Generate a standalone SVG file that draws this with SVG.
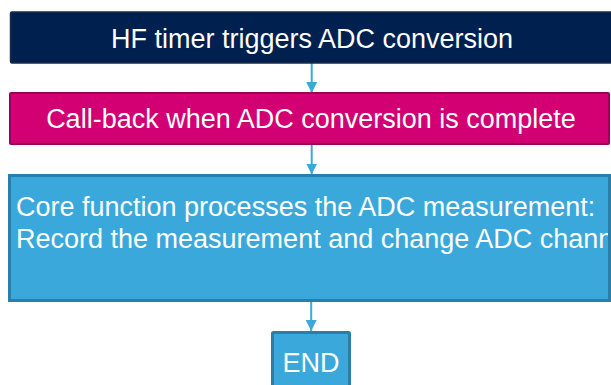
<svg xmlns="http://www.w3.org/2000/svg" width="611" height="385" viewBox="0 0 611 385">
  <defs>
    <marker id="arrow" markerUnits="userSpaceOnUse" markerWidth="12" markerHeight="12" refX="11" refY="6" orient="auto">
      <path d="M0,0.5 L11,6 L0,11.5 Z" fill="#3aa8db"/>
    </marker>
    <!-- keeps the long second line inside the box border -->
    <clipPath id="core-clip">
      <rect x="11" y="177" width="597" height="122"/>
    </clipPath>
  </defs>
  <style>
    .lbl { font-family: "Liberation Sans", Arial, sans-serif; font-size: 27px; fill: #ffffff; }
    .mid { text-anchor: middle; }
    .navy { fill: #00204f; stroke: #1b2b48; stroke-width: 1.5; }
    .pink { fill: #d20073; stroke: #9b0058; stroke-width: 2; }
    .blue { fill: #3aa8db; stroke: #2b7ea8; stroke-width: 3; }
    .conn { stroke: #3aa8db; stroke-width: 2; fill: none; marker-end: url(#arrow); }
  </style>

  <g id="connectors">
    <line class="conn" x1="311.7" y1="63" x2="311.7" y2="93"/>
    <line class="conn" x1="311.7" y1="145" x2="311.7" y2="174.5"/>
    <line class="conn" x1="311.2" y1="302" x2="311.2" y2="331"/>
  </g>

  <g id="hf-timer">
    <rect class="navy" x="10.5" y="12" width="606" height="51" rx="1.5"/>
    <text class="lbl mid" x="312" y="48">HF timer triggers ADC conversion</text>
  </g>

  <g id="callback">
    <rect class="pink" x="10" y="93" width="599" height="51" rx="1"/>
    <text class="lbl mid" x="311" y="128">Call-back when ADC conversion is complete</text>
  </g>

  <g id="core-function">
    <rect class="blue" x="9.5" y="175.5" width="600" height="125"/>
    <g clip-path="url(#core-clip)">
      <text class="lbl" x="16" y="216">Core function processes the ADC measurement:</text>
      <text class="lbl" x="16" y="248">Record the measurement and change ADC channel</text>
    </g>
  </g>

  <g id="end">
    <rect class="blue" x="272.5" y="332.5" width="77" height="60" rx="1"/>
    <text class="lbl mid" x="311" y="372">END</text>
  </g>
</svg>
